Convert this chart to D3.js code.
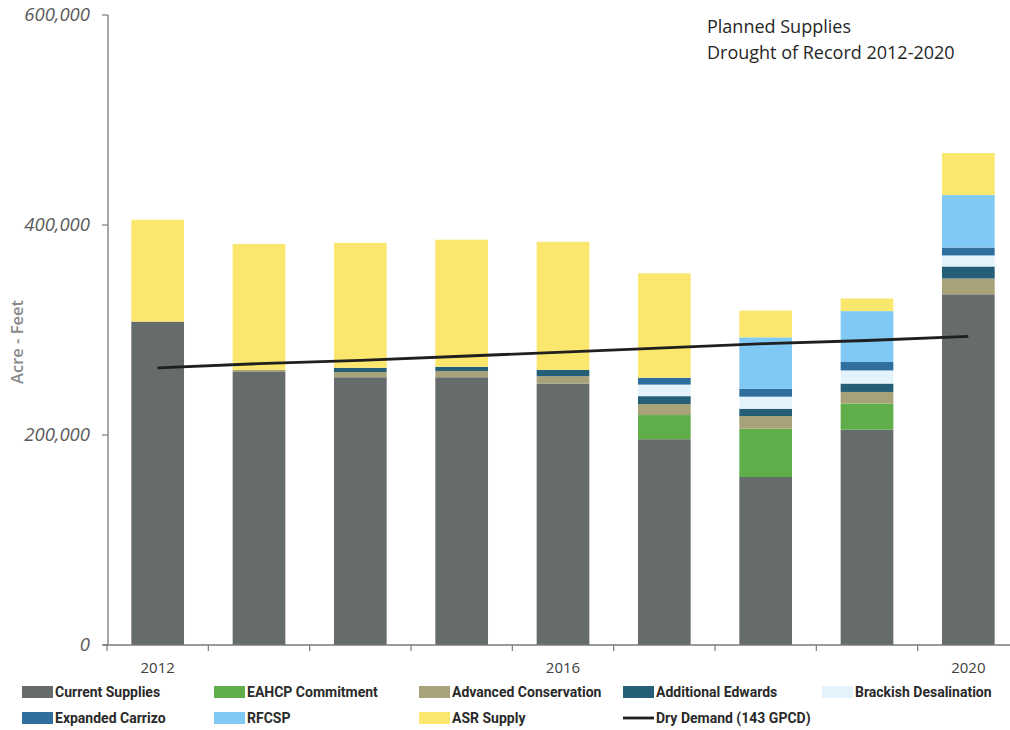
<!DOCTYPE html>
<html>
<head>
<meta charset="utf-8">
<script src="https://cdn.jsdelivr.net/npm/d3@7"></script>
<style>
  html, body { margin: 0; padding: 0; background: #fff; }
  svg { display: block; }
</style>
</head>
<body>
<svg id="chart" width="1010" height="730"></svg>
<script>
// Years on the category axis
const years = ["2012", "2013", "2014", "2015", "2016", "2017", "2018", "2019", "2020"];
const yearLabels = ["2012", "2016", "2020"];

// Supply components (acre-feet), stacked bottom to top
const currentSupplies      = [308000, 260000, 255000, 255000, 249000, 196000, 160000, 205000, 334000];
const eahcpCommitment      = [0, 0, 0, 0, 0, 23000, 46000, 25000, 0];
const advancedConservation = [0, 2000, 5000, 6000, 7000, 10500, 12000, 11000, 15000];
const additionalEdwards    = [0, 0, 4000, 4000, 6000, 7500, 7000, 8000, 11500];
const brackishDesalination = [0, 0, 0, 0, 0, 11000, 11500, 12500, 10500];
const expandedCarrizo      = [0, 0, 0, 0, 0, 6500, 7500, 8000, 7500];
const rfcsp                = [0, 0, 0, 0, 0, 0, 49000, 48500, 50000];
const asrSupply            = [97000, 120000, 119000, 121000, 122000, 99500, 25500, 12000, 40000];

// Demand line (acre-feet)
const dryDemand = [264000, 268000, 271000, 275000, 279000, 283000, 287000, 290000, 294000];

const yTicks = [0, 200000, 400000, 600000];

const seriesNames = ["Current Supplies", "EAHCP Commitment", "Advanced Conservation",
  "Additional Edwards", "Brackish Desalination", "Expanded Carrizo", "RFCSP", "ASR Supply"];
const seriesValues = [currentSupplies, eahcpCommitment, advancedConservation,
  additionalEdwards, brackishDesalination, expandedCarrizo, rfcsp, asrSupply];
const seriesColors = ["#656c6b", "#5fae4a", "#a8a27a", "#255f77", "#e4f2fb", "#2f6fa0", "#80c9f4", "#fbe66e"];

const svg = d3.select("#chart");

const x = d3.scaleBand().domain(years).range([107, 1019]).paddingInner(0.48).paddingOuter(0.24);
const xTickScale = d3.scaleBand().domain(years).range([107, 1019]);
const y = d3.scaleLinear().domain([0, 600000]).range([645, 15]);

// Build stacked data
const rows = years.map((yr, i) => {
  const r = { year: yr };
  seriesNames.forEach((n, k) => { r[n] = seriesValues[k][i]; });
  return r;
});
const stack = d3.stack().keys(seriesNames)(rows);

const gBars = svg.append("g");
stack.forEach((layer, k) => {
  gBars.append("g")
    .attr("fill", seriesColors[k])
    .selectAll("rect")
    .data(layer.filter(d => d[1] - d[0] > 0))
    .join("rect")
    .attr("x", d => x(d.data.year))
    .attr("width", x.bandwidth())
    .attr("y", d => y(d[1]))
    .attr("height", d => y(d[0]) - y(d[1]));
});

// Axes
const axisColor = "#7a7a7a";
svg.append("line")
  .attr("x1", 108).attr("x2", 108).attr("y1", y(600000)).attr("y2", y(0))
  .attr("stroke", axisColor).attr("stroke-width", 1.3);
svg.append("line")
  .attr("x1", 103).attr("x2", 1019).attr("y1", y(0)).attr("y2", y(0))
  .attr("stroke", axisColor).attr("stroke-width", 1.3);

// Y ticks and labels
svg.append("g").selectAll("line").data(yTicks).join("line")
  .attr("x1", 102).attr("x2", 108)
  .attr("y1", d => y(d)).attr("y2", d => y(d))
  .attr("stroke", axisColor).attr("stroke-width", 1.2);
svg.append("g").selectAll("text").data(yTicks).join("text")
  .attr("x", 90).attr("y", d => y(d) + 6)
  .attr("text-anchor", "end")
  .attr("font-family", "'Open Sans', 'Noto Sans', sans-serif")
  .attr("font-style", "italic")
  .attr("font-size", 18.5)
  .attr("fill", "#5a5a5a")
  .text(d => d3.format(",")(d));

// X boundary ticks
const boundaries = years.map(yr => xTickScale(yr));
svg.append("g").selectAll("line").data(boundaries).join("line")
  .attr("x1", d => d).attr("x2", d => d)
  .attr("y1", y(0)).attr("y2", y(0) + 6)
  .attr("stroke", axisColor).attr("stroke-width", 1.2);

// X labels
svg.append("g").selectAll("text").data(yearLabels).join("text")
  .attr("x", d => x(d) + x.bandwidth() / 2)
  .attr("y", 673)
  .attr("text-anchor", "middle")
  .attr("font-family", "'Open Sans', sans-serif")
  .attr("font-size", 15)
  .attr("fill", "#404040")
  .text(d => d);

// Y axis title
svg.append("text")
  .attr("transform", "translate(23,342) rotate(-90)")
  .attr("text-anchor", "middle")
  .attr("font-family", "'Open Sans', sans-serif")
  .attr("font-weight", "600")
  .attr("font-size", 16.5)
  .attr("fill", "#8a8a8a")
  .text("Acre - Feet");

// Demand line
const line = d3.line()
  .x((d, i) => x(years[i]) + x.bandwidth() / 2)
  .y(d => y(d));
svg.append("path")
  .datum(dryDemand)
  .attr("d", line)
  .attr("fill", "none")
  .attr("stroke", "#1f1f1f")
  .attr("stroke-width", 2.8);

// Title
const title = svg.append("text")
  .attr("font-family", "'Open Sans', sans-serif")
  .attr("font-size", 18)
  .attr("fill", "#262626");
title.append("tspan").attr("x", 707).attr("y", 33).text("Planned Supplies");
title.append("tspan").attr("x", 707).attr("y", 59).text("Drought of Record 2012-2020");

// Legend
const legendItems = seriesNames.map((n, k) => ({ name: n, color: seriesColors[k], type: "rect" }))
  .concat([{ name: "Dry Demand (143 GPCD)", color: "#1f1f1f", type: "line" }]);
const legendCols = [22, 214, 419, 623, 822];
const legendRows = [692, 718];
const lg = svg.append("g");
legendItems.forEach((it, i) => {
  const col = i % 5, row = Math.floor(i / 5);
  const gx = legendCols[col], gy = legendRows[row];
  if (it.type === "rect") {
    lg.append("rect").attr("x", gx).attr("y", gy - 6).attr("width", 31).attr("height", 12).attr("fill", it.color);
  } else {
    lg.append("line").attr("x1", gx).attr("x2", gx + 31).attr("y1", gy).attr("y2", gy)
      .attr("stroke", it.color).attr("stroke-width", 2.8);
  }
  lg.append("text")
    .attr("x", gx + 33).attr("y", gy + 5)
    .attr("font-family", "'Liberation Sans Narrow', 'Roboto', sans-serif")
    .attr("font-weight", "bold")
    .attr("font-size", 14)
    .attr("fill", "#2a2a2a")
    .text(it.name);
});
</script>
</body>
</html>
